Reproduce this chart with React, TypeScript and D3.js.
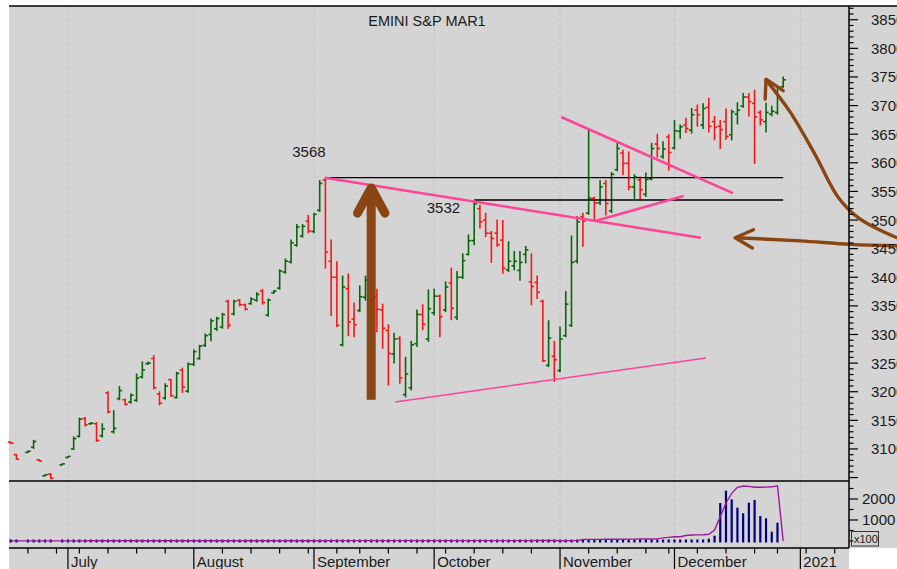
import React from 'react';
import * as d3 from 'd3';

// [open, high, low, close] per trading day, null where no bar was printed
type Bar = [number, number, number, number] | null;

// day index 0 = July 1 2020, counted in trading days
const firstDay = -10;

const juneBars: Bar[] = [
  [3112, 3112, 3110, 3110], [3090, 3090, 3082, 3082], null, [3094, 3096, 3094, 3096],
  [3103, 3115, 3101, 3113], [3081, 3081, 3079, 3079], [3053, 3055, 3053, 3055],
  [3056, 3057, 3048, 3049], null, [3072, 3074, 3072, 3074],
];
const julyBars: Bar[] = [
  [3085, 3087, 3085, 3087], [3100, 3121, 3099, 3118], [3122, 3154, 3121, 3152], [3153, 3155, 3140, 3142],
  [3144, 3146, 3143, 3145], [3144, 3146, 3113, 3115], [3123, 3144, 3121, 3135], [3198, 3200, 3163, 3165],
  [3130, 3167, 3128, 3136], [3188, 3209, 3186, 3202], [3186, 3187, 3177, 3178], [3182, 3196, 3180, 3194],
  [3185, 3231, 3183, 3224], [3226, 3252, 3224, 3238], [3249, 3252, 3248, 3250], [3258, 3263, 3205, 3207],
  [3196, 3200, 3177, 3180], [3189, 3214, 3187, 3210], [3221, 3222, 3192, 3193], [3190, 3234, 3189, 3232],
  [3238, 3241, 3199, 3208], [3201, 3250, 3199, 3248],
];
const augBars: Bar[] = [
  [3248, 3273, 3246, 3270], [3258, 3281, 3257, 3280], [3281, 3301, 3279, 3298], [3300, 3327, 3289, 3324],
  [3310, 3330, 3307, 3328], [3313, 3337, 3311, 3335], [3358, 3360, 3311, 3316], [3336, 3360, 3334, 3358],
  [3360, 3361, 3350, 3352], [3352, 3353, 3343, 3344], [3354, 3364, 3353, 3362], [3360, 3373, 3358, 3370],
  [3376, 3379, 3353, 3356], [3334, 3362, 3332, 3360], [3373, 3377, 3372, 3376], [3381, 3413, 3379, 3411],
  [3409, 3432, 3407, 3428], [3427, 3465, 3425, 3460], [3456, 3492, 3454, 3488], [3472, 3492, 3470, 3489],
  [3498, 3508, 3478, 3481],
];
const sepBars: Bar[] = [
  [3480, 3512, 3478, 3510], [3517, 3569, 3515, 3564], [3570, 3574, 3416, 3444], [3428, 3465, 3333, 3400],
  [3400, 3427, 3314, 3316], [3282, 3402, 3280, 3383], [3380, 3406, 3298, 3322], [3327, 3355, 3296, 3317],
  [3342, 3385, 3340, 3366], [3365, 3402, 3360, 3395], [3398, 3410, 3370, 3385], [3366, 3379, 3305, 3344],
  [3343, 3353, 3276, 3311], [3307, 3317, 3212, 3267], [3266, 3302, 3250, 3292], [3293, 3296, 3215, 3224],
  [3195, 3260, 3191, 3231], [3207, 3288, 3203, 3282], [3284, 3343, 3279, 3335], [3335, 3352, 3308, 3318],
  [3292, 3378, 3288, 3345],
];
const octBars: Bar[] = [
  [3338, 3379, 3334, 3367], [3367, 3369, 3296, 3331], [3343, 3392, 3340, 3383], [3390, 3416, 3326, 3346],
  [3330, 3410, 3326, 3400], [3400, 3441, 3398, 3429], [3440, 3474, 3439, 3464], [3464, 3532, 3457, 3528],
  [3520, 3526, 3486, 3497], [3500, 3512, 3471, 3477], [3477, 3480, 3426, 3468], [3477, 3500, 3454, 3457],
  [3465, 3499, 3407, 3416], [3413, 3462, 3410, 3428], [3420, 3445, 3413, 3428], [3412, 3445, 3395, 3426],
  [3440, 3454, 3425, 3448], [3392, 3441, 3352, 3384], [3391, 3402, 3363, 3374], [3358, 3360, 3253, 3254],
  [3246, 3324, 3244, 3294], [3262, 3288, 3218, 3256],
];
const novBars: Bar[] = [
  [3237, 3313, 3235, 3292], [3298, 3375, 3296, 3353], [3316, 3472, 3314, 3426], [3428, 3506, 3425, 3497],
  [3506, 3512, 3454, 3498], [3512, 3660, 3510, 3538], [3538, 3540, 3501, 3530], [3530, 3569, 3527, 3558],
  [3564, 3569, 3509, 3529], [3516, 3583, 3513, 3580], [3588, 3634, 3586, 3625], [3617, 3622, 3579, 3599],
  [3599, 3619, 3553, 3558], [3558, 3579, 3538, 3575], [3570, 3575, 3535, 3553], [3545, 3582, 3541, 3571],
  [3572, 3634, 3570, 3625], [3633, 3650, 3610, 3625], [3611, 3637, 3608, 3624], [3645, 3649, 3587, 3618],
];
const decBars: Bar[] = [
  [3626, 3674, 3624, 3656], [3655, 3666, 3643, 3663], [3666, 3678, 3653, 3660], [3657, 3695, 3652, 3684],
  [3692, 3701, 3664, 3684], [3666, 3703, 3660, 3695], [3697, 3713, 3654, 3664], [3672, 3681, 3640, 3662],
  [3664, 3674, 3625, 3658], [3672, 3694, 3641, 3646], [3649, 3692, 3640, 3689], [3685, 3705, 3668, 3692],
  [3699, 3721, 3697, 3715], [3715, 3721, 3682, 3707], [3704, 3727, 3599, 3680], [3688, 3691, 3666, 3675],
  [3672, 3704, 3654, 3688], [3685, 3699, 3682, 3690], [3688, 3733, 3685, 3730], [3733, 3750, 3732, 3745],
];

// volume (x100), same day order
const juneVol = [2, 3, null, 2, 4, 3, 2, 3, null, 4];
const julyVol = [3, 5, 6, 4, 3, 5, 4, 6, 5, 7, 4, 5, 6, 4, 3, 6, 5, 4, 6, 5, 7, 6];
const augVol = [6, 7, 5, 8, 6, 7, 9, 8, 5, 6, 7, 8, 6, 9, 7, 8, 10, 9, 8, 11, 9];
const sepVol = [12, 10, 15, 18, 14, 12, 16, 13, 11, 14, 15, 12, 13, 16, 18, 15, 14, 17, 16, 15, 13];
const octVol = [14, 15, 13, 16, 18, 17, 15, 14, 16, 18, 19, 17, 15, 16, 18, 17, 20, 18, 19, 21, 22, 20];
const novVol = [22, 24, 26, 25, 28, 40, 30, 28, 27, 26, 30, 28, 29, 27, 31, 30, 25, 27, 12, 33];
const decVol = [38, 42, 48, 52, 58, 75, 110, 250, 1810, 2395, 1986, 1586, 1319, 1824, 1952, 1190, 1081, 443, 871, null];

// open interest (x100)
const juneOI = [5, 5, 5, 6, 6, 6, 7, 7, 7, 8];
const julyOI = [8, 8, 8, 9, 9, 9, 9, 10, 10, 10, 10, 10, 11, 11, 11, 11, 12, 12, 12, 12, 12, 12];
const augOI = [12, 12, 13, 13, 13, 13, 13, 13, 14, 14, 14, 14, 14, 14, 14, 15, 15, 15, 15, 15, 15];
const sepOI = [15, 15, 15, 16, 16, 16, 16, 16, 16, 16, 17, 17, 17, 17, 17, 17, 17, 18, 18, 18, 18];
const octOI = [18, 18, 18, 18, 19, 19, 19, 19, 19, 19, 19, 20, 20, 20, 20, 20, 20, 20, 21, 21, 21, 21];
const novOI = [12, 14, 16, 18, 70, 75, 76, 78, 80, 82, 84, 86, 88, 90, 92, 94, 96, 100, 150, 175];
const decOI = [200, 205, 260, 285, 290, 295, 320, 520, 1160, 1810, 2270, 2557, 2620, 2600, 2560, 2560, 2565, 2580, 2630, 0];

const monthTicks = [
  { label: 'July', day: 0 },
  { label: 'August', day: 22 },
  { label: 'September', day: 43 },
  { label: 'October', day: 64 },
  { label: 'November', day: 86 },
  { label: 'December', day: 106 },
  { label: '2021', day: 128 },
];
// first trading day of each week
const weekTicks = [-7, -2, 2, 7, 12, 17, 27, 32, 37, 42, 47, 51, 56, 61, 66, 71, 76, 81, 91, 96, 101, 105, 110, 115, 120, 124, 129, 134];

const priceLabels = [3100, 3150, 3200, 3250, 3300, 3350, 3400, 3450, 3500, 3550, 3600, 3650, 3700, 3750, 3800, 3850];
const volLabels = [1000, 2000];
const volMinor = [0, 500, 1500, 2500];

// drawn annotations, in [day, price]
const levelLines = [
  { price: 3574, from: 45, to: 125 },
  { price: 3535, from: 71, to: 125 },
];
const levelLabels = [
  { text: '3568', day: 39.2, price: 3610 },
  { text: '3532', day: 62.7, price: 3513 },
];
const pinkLines = [
  { a: [44.9, 3574], b: [110.6, 3469], w: 2.6 },
  { a: [86.2, 3680], b: [116.2, 3547], w: 2.6 },
  { a: [92.0, 3498], b: [107.6, 3542], w: 2.6 },
  { a: [57.2, 3182], b: [111.5, 3259], w: 1.5 },
];
const upArrowShaft = [[53, 3186], [53, 3552]];
const upArrowHead = [[50.6, 3512], [53, 3556], [55.4, 3512]];
const leftArrowShaft = [[116.9, 3469], [128, 3463.5], [136.7, 3457.5], [144.9, 3455]];
const leftArrowHead = [[119.8, 3483], [116.6, 3469], [119.6, 3451]];
const curveArrowShaft = [[122, 3745], [126.2, 3689], [130.6, 3614], [134.6, 3540], [138.4, 3502], [144.9, 3469]];
const curveArrowHead = [[121.85, 3711], [122, 3746], [125, 3726]];

const GREEN = '#0a650a';
const RED = '#ff1414';
const PINK = '#ff4496';
const BROWN = '#8b4513';
const FONT = '"Liberation Sans", Arial, Helvetica, sans-serif';

export default function App() {
  const bars = [...juneBars, ...julyBars, ...augBars, ...sepBars, ...octBars, ...novBars, ...decBars];
  const vols = [...juneVol, ...julyVol, ...augVol, ...sepVol, ...octVol, ...novVol, ...decVol];
  const ois = [...juneOI, ...julyOI, ...augOI, ...sepOI, ...octOI, ...novOI, ...decOI];

  const left = 9, right = 849, top = 6, priceBottom = 481, volBase = 541, axisTop = 548;

  const x = d3.scaleLinear().domain([-10.3, 136.5]).range([left, right]);
  const y = d3.scaleLinear().domain([3044, 3874]).range([priceBottom, top]);
  const vy = d3.scaleLinear().domain([0, 2857]).range([volBase, priceBottom]);

  const px = (p: number[]) => [x(p[0]), y(p[1])] as [number, number];
  const straight = d3.line();
  const smooth = d3.line().curve(d3.curveCatmullRom.alpha(0.5));

  const oiPath = d3.line<[number, number]>()
    .x(d => x(d[0]))
    .y(d => vy(d[1]))(ois.map((v, i) => [firstDay + i, v] as [number, number]));

  const priceMinor = d3.range(3050, 3871, 10);

  return (
    <svg width={897} height={569} style={{ position: 'absolute', left: 0, top: 0, display: 'block' }} fontFamily={FONT}>
      <rect x={0} y={0} width={897} height={569} fill="#fff" />
      <rect x={left} y={top} width={897 - left} height={axisTop - top} fill="#d4d4d4" />
      <rect x={left} y={axisTop} width={right - left} height={569 - axisTop} fill="#d4d4d4" />

      {/* month grid */}
      {monthTicks.map(m => (
        <line key={m.label} x1={x(m.day)} x2={x(m.day)} y1={top} y2={axisTop}
          stroke="#b4b4b4" strokeWidth={1} strokeDasharray="1,2" />
      ))}

      <text x={427} y={26} textAnchor="middle" fontSize={14.5} fill="#1a1a1a">EMINI S&amp;P MAR1</text>

      {/* price bars */}
      {bars.map((b, i) => {
        if (!b) return null;
        const [o, h, l, c] = b;
        const cx = x(firstDay + i);
        const col = c >= o ? GREEN : RED;
        return (
          <g key={i} stroke={col} strokeWidth={1.6}>
            <line x1={cx} x2={cx} y1={y(h) - 0.5} y2={y(l) + 0.5} />
            <line x1={cx - 2.7} x2={cx} y1={y(o)} y2={y(o)} />
            <line x1={cx} x2={cx + 2.7} y1={y(c)} y2={y(c)} />
          </g>
        );
      })}

      {/* support / resistance levels */}
      {levelLines.map((l, i) => (
        <line key={i} x1={x(l.from)} x2={x(l.to)} y1={y(l.price)} y2={y(l.price)} stroke="#000" strokeWidth={1.3} />
      ))}
      {levelLabels.map(l => (
        <text key={l.text} x={x(l.day)} y={y(l.price)} fontSize={15} fill="#1a1a1a">{l.text}</text>
      ))}
      {pinkLines.map((p, i) => (
        <line key={i} x1={x(p.a[0])} y1={y(p.a[1])} x2={x(p.b[0])} y2={y(p.b[1])} stroke={PINK} strokeWidth={p.w} />
      ))}

      {/* arrows */}
      <g stroke={BROWN} fill="none" strokeLinecap="round" strokeLinejoin="round">
        <path d={straight(upArrowShaft.map(px)) || ''} strokeWidth={9} strokeLinecap="butt" />
        <path d={straight(upArrowHead.map(px)) || ''} strokeWidth={9} />
        <path d={smooth(leftArrowShaft.map(px)) || ''} strokeWidth={3.4} />
        <path d={straight(leftArrowHead.map(px)) || ''} strokeWidth={3.4} />
        <path d={smooth(curveArrowShaft.map(px)) || ''} strokeWidth={3.4} />
        <path d={straight(curveArrowHead.map(px)) || ''} strokeWidth={3.4} />
      </g>

      {/* panel frame */}
      <line x1={left} x2={897} y1={top} y2={top} stroke="#000" strokeWidth={1.5} />
      <line x1={left} x2={right} y1={priceBottom} y2={priceBottom} stroke="#000" strokeWidth={1.3} />

      {/* volume */}
      {vols.map((v, i) => {
        if (v == null) return null;
        const cx = x(firstDay + i);
        const t = Math.min(vy(v), vy(0) - 1.5);
        return <rect key={i} x={cx - 1.1} width={2.2} y={t} height={vy(0) + 1.5 - t} fill="#000080" />;
      })}
      <path d={oiPath || ''} fill="none" stroke="#9a1a9a" strokeWidth={1.4} />

      {/* right axis */}
      <line x1={right} x2={right} y1={top} y2={axisTop} stroke="#000" strokeWidth={1.5} />
      {priceMinor.map(p => (
        <line key={p} x1={right} x2={right + (p % 50 === 0 ? 9 : 4.5)} y1={y(p)} y2={y(p)} stroke="#000" strokeWidth={1.2} />
      ))}
      {priceLabels.map(p => (
        <text key={p} x={871} y={y(p) + 5.5} fontSize={15} fill="#1a1a1a">{p}</text>
      ))}
      {volMinor.map(v => (
        <line key={v} x1={right} x2={right + 4.5} y1={vy(v)} y2={vy(v)} stroke="#000" strokeWidth={1.2} />
      ))}
      {volLabels.map(v => (
        <g key={v}>
          <line x1={right} x2={right + 9} y1={vy(v)} y2={vy(v)} stroke="#000" strokeWidth={1.2} />
          <text x={862} y={vy(v) + 5.5} fontSize={15} fill="#1a1a1a">{v}</text>
        </g>
      ))}
      <rect x={851.5} y={531.5} width={27} height={14.5} fill="none" stroke="#333" strokeWidth={1} />
      <text x={854} y={543} fontSize={11} fill="#1a1a1a">x100</text>

      {/* date axis */}
      <line x1={left} x2={right} y1={axisTop} y2={axisTop} stroke="#000" strokeWidth={1.5} />
      {weekTicks.map(d => (
        <line key={d} x1={x(d)} x2={x(d)} y1={axisTop} y2={axisTop + 5.5} stroke="#000" strokeWidth={1.2} />
      ))}
      {monthTicks.map(m => (
        <g key={m.label}>
          <line x1={x(m.day)} x2={x(m.day)} y1={axisTop} y2={569} stroke="#000" strokeWidth={1.2} />
          <text x={x(m.day) + 3} y={567} fontSize={15} fill="#1a1a1a">{m.label}</text>
        </g>
      ))}
    </svg>
  );
}
